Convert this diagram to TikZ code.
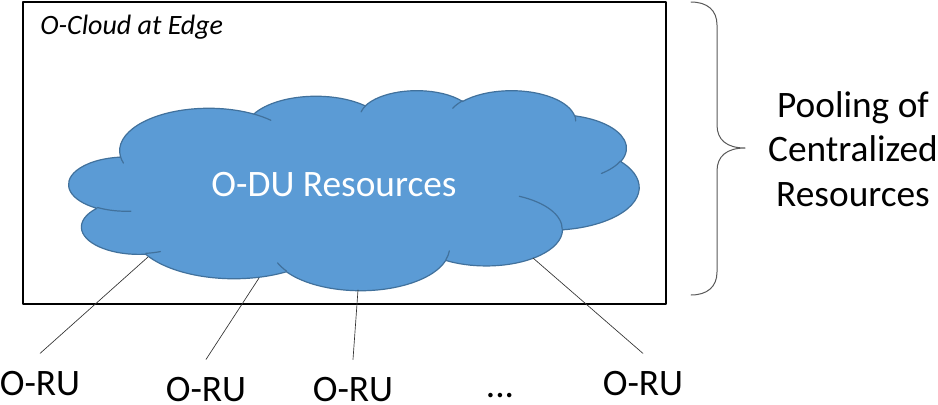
\documentclass[tikz,border=0pt]{standalone}
\usepackage{fontspec}
\setmainfont{Carlito}
\definecolor{cloudfill}{HTML}{5B9BD5}
\definecolor{cloudedge}{HTML}{41719C}
\definecolor{bracegray}{HTML}{595959}
\begin{document}
\begin{tikzpicture}[x=0.75pt,y=-0.75pt,line join=round,line cap=round]
    \tikzset{cloud arc/.style n args={4}{x radius=#1,y radius=#2,
            start angle={atan2(#1*sin(#3),#2*cos(#3))},
            delta angle={mod(atan2(#1*sin(#3+#4),#2*cos(#3+#4))-atan2(#1*sin(#3),#2*cos(#3))+720,360)}},
        edge line/.style={draw=cloudedge,line width=0.9pt},
        big text/.style={font=\fontsize{28}{33.6}\selectfont},
        ru label/.style={big text,inner sep=0pt,outer sep=13pt},
        ru link/.style={line width=0.5pt,draw=black!80}}
    \useasboundingbox (0,0) rectangle (938,404);
    \draw[line width=1.5pt] (23,1.5) rectangle (666,304);
    \node[anchor=base west,inner sep=0pt,font=\fontsize{21}{25}\selectfont\itshape] (edge) at (40,34) {O-Cloud at Edge};
    \begin{scope}[shift={(69,90)},x=0.98958pt,y=-0.34722pt]
        \filldraw[fill=cloudfill,edge line] (39.00,143.70)
            arc[cloud arc={67.53}{91.90}{-190.4875}{123.7805}]
            arc[cloud arc={53.33}{72.67}{-144.1024}{89.9452}]
            arc[cloud arc={43.65}{59.45}{-145.8079}{99.7230}]
            arc[cloud arc={48.57}{65.95}{-130.9861}{117.2417}]
            arc[cloud arc={53.33}{72.73}{-78.7089}{109.0269}]
            arc[cloud arc={67.75}{92.20}{-46.2673}{130.2690}]
            arc[cloud arc={57.85}{78.67}{0.6250}{114.0333}]
            arc[cloud arc={67.52}{92.15}{22.4516}{115.1726}]
            arc[cloud arc={77.20}{105.43}{66.2426}{75.7110}]
            arc[cloud arc={43.60}{59.18}{-274.9421}{146.7356}]
            arc[cloud arc={43.45}{59.45}{-246.8285}{152.5189}] -- cycle;
        \draw[edge line]
            (46.93,261.77) arc[cloud arc={43.45}{59.45}{86.7420}{26.4295}]
            (69.28,348.99) arc[cloud arc={43.60}{59.18}{73.6105}{11.4475}]
            (164.78,390.90) arc[cloud arc={67.52}{92.15}{137.6242}{14.0811}]
            (288.27,347.51) arc[cloud arc={67.52}{92.15}{6.4533}{15.9984}]
            (341.29,229.54) arc[cloud arc={57.85}{78.67}{-70.2924}{70.9174}]
            (417.98,153.54) arc[cloud arc={53.33}{72.73}{30.3180}{27.7515}]
            (383.24,54.26) arc[cloud arc={48.57}{65.95}{-13.7443}{14.8589}]
            (290.78,39.52) arc[cloud arc={48.57}{65.95}{-149.1815}{18.1954}]
            (221.41,47.20) arc[cloud arc={43.65}{59.45}{-163.4943}{17.6864}]
            (140.00,51.92) arc[cloud arc={67.53}{91.90}{-66.7070}{12.3194}]
            (41.27,157.89) arc[cloud arc={67.53}{91.90}{157.6544}{11.8582}];
    \end{scope}
    \node[big text,text=white] (odu) at (334,185) {O-DU Resources};
    \draw[bracegray,line width=0.75pt] (691,2) .. controls (707,2) and (717,10) .. (717,25) -- (717,125)
        .. controls (717,140) and (727,148) .. (745,148) .. controls (727,148) and (717,156) .. (717,171)
        -- (717,272) .. controls (717,287) and (707,295) .. (691,295);
    \node[big text,align=center] (pool) at (853,149) {Pooling of\\Centralized\\Resources};
    \coordinate (c1) at (148,257);
    \coordinate (c2) at (259,278);
    \coordinate (c3) at (358,290);
    \coordinate (c4) at (533,258);
    \node[ru label,anchor=base] (ru1) at (40,395) {O-RU};
    \node[ru label,anchor=base] (ru2) at (206,401) {O-RU};
    \node[ru label,anchor=base] (ru3) at (353,401) {O-RU};
    \node[big text,inner sep=0pt,anchor=base] (dots) at (500,397) {...};
    \node[ru label,anchor=base] (ru4) at (643,395) {O-RU};
    \foreach \i in {1,...,4}
        \draw[ru link] (c\i) -- (ru\i.north);
\end{tikzpicture}
\end{document}
